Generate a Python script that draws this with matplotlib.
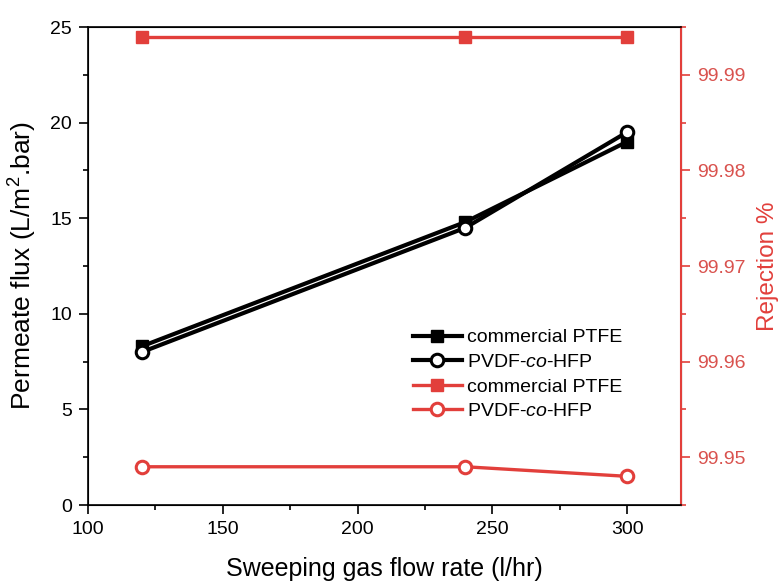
import matplotlib
matplotlib.use("Agg")
from matplotlib import pyplot as plt
from matplotlib.ticker import MultipleLocator, AutoMinorLocator, FormatStrFormatter

plt.rcParams['font.family'] = ['Liberation Sans', 'DejaVu Sans']
plt.rcParams['mathtext.fontset'] = 'custom'
plt.rcParams['mathtext.rm'] = 'Liberation Sans'
plt.rcParams['mathtext.it'] = 'Liberation Sans:italic'

# data
flow = [120, 240, 300]
flux_ptfe = [8.3, 14.8, 19.0]
flux_pvdf = [8.0, 14.5, 19.5]
rej_ptfe = [99.994, 99.994, 99.994]
rej_pvdf = [99.949, 99.949, 99.948]

RED = '#e23f3b'
RED_TXT = '#d9524e'

fig = plt.figure(figsize=(7.78, 5.81), dpi=100)
ax = fig.add_axes([0.1131, 0.1308, 0.7622, 0.8227])
ax2 = ax.twinx()

l1, = ax.plot(flow, flux_ptfe, color='black', lw=3.0, marker='s', ms=8.5,
              mfc='black', mec='black', label='commercial PTFE')
l2, = ax.plot(flow, flux_pvdf, color='black', lw=3.0, marker='o', ms=9,
              mfc='white', mec='black', mew=2.2, label='PVDF-$\\it{co}$-HFP')
l3, = ax2.plot(flow, rej_ptfe, color=RED, lw=2.4, marker='s', ms=9,
               mfc=RED, mec=RED, label='commercial PTFE')
l4, = ax2.plot(flow, rej_pvdf, color=RED, lw=2.4, marker='o', ms=9,
               mfc='white', mec=RED, mew=2.2, label='PVDF-$\\it{co}$-HFP')

ax.set_xlim(100, 320)
ax.set_ylim(0, 25)
ax2.set_ylim(99.945, 99.995)

ax.xaxis.set_major_locator(MultipleLocator(50))
ax.xaxis.set_minor_locator(AutoMinorLocator(2))
ax.yaxis.set_major_locator(MultipleLocator(5))
ax.yaxis.set_minor_locator(AutoMinorLocator(2))
ax2.yaxis.set_major_locator(MultipleLocator(0.01))
ax2.yaxis.set_minor_locator(AutoMinorLocator(2))
ax2.yaxis.set_major_formatter(FormatStrFormatter('%.2f'))

ax.tick_params(axis='both', which='major', length=6.5, width=1.2, labelsize=14, pad=5)
ax.tick_params(axis='both', which='minor', length=3.5, width=1.2)
ax2.tick_params(axis='y', which='major', length=6.5, width=1.2, labelsize=14, pad=5,
                colors=RED, labelcolor=RED_TXT)
ax2.tick_params(axis='y', which='minor', length=3.5, width=1.2, colors=RED)

for s in ['left', 'bottom', 'top']:
    ax2.spines[s].set_linewidth(1.2)
ax2.spines['right'].set_color(RED)
ax2.spines['right'].set_linewidth(1.5)

ax.set_xlabel('Sweeping gas flow rate (l/hr)', fontsize=18, labelpad=14)
ax.set_ylabel('Permeate flux (L/m$^2$.bar)', fontsize=19, labelpad=8)
ax2.set_ylabel('Rejection %', fontsize=17.5, color=RED, labelpad=8)

ax2.legend(handles=[l1, l2, l3, l4], loc='upper left',
           bbox_to_anchor=(0.525, 0.397), frameon=False, fontsize=14,
           handlelength=2.5, labelspacing=0.36, borderpad=0.2, handletextpad=0.3)

fig.savefig('out.png', dpi=100)
